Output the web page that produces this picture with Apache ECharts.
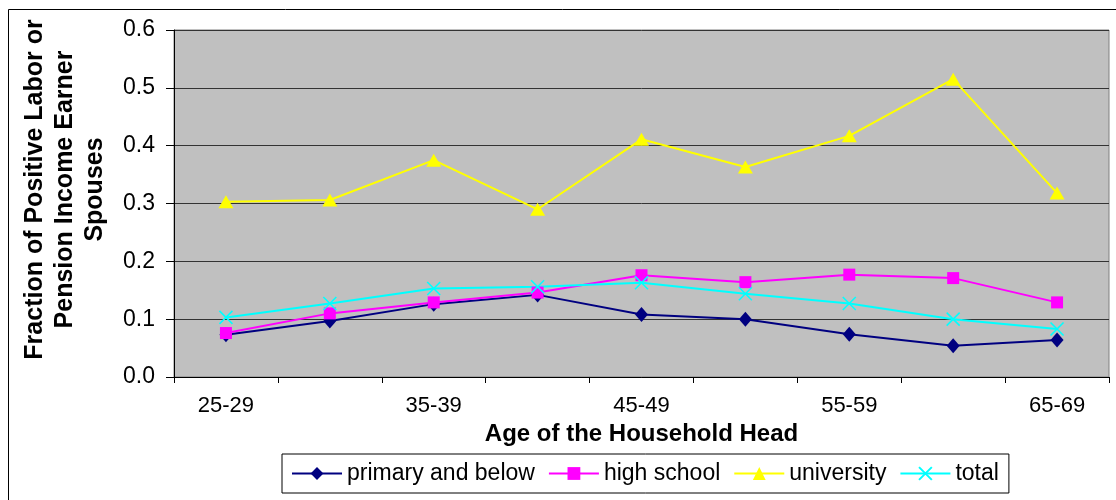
<!DOCTYPE html>
<html>
<head>
<meta charset="utf-8">
<script src="https://cdn.jsdelivr.net/npm/echarts@6/dist/echarts.min.js"></script>
<style>
  html, body { margin: 0; padding: 0; background: #fff; }
  #chart { width: 1116px; height: 500px; }
</style>
</head>
<body>
<div id="chart"></div>
<script>
// age groups of the household head
const ageGroups = ['25-29', '30-34', '35-39', '40-44', '45-49', '50-54', '55-59', '60-64', '65-69'];

// fraction of spouses with positive labor / pension income
const primaryBelow = [0.073, 0.097, 0.126, 0.142, 0.108, 0.100, 0.074, 0.054, 0.064];
const highSchool   = [0.076, 0.110, 0.129, 0.146, 0.176, 0.164, 0.177, 0.171, 0.129];
const university   = [0.303, 0.306, 0.375, 0.290, 0.411, 0.363, 0.417, 0.515, 0.318];
const total        = [0.103, 0.127, 0.153, 0.156, 0.163, 0.144, 0.127, 0.100, 0.083];

const FONT = '"Liberation Sans", Arial, sans-serif';
const crossPath = 'path://M0,0 L10,10 M10,0 L0,10';

const chart = echarts.init(document.getElementById('chart'));

function lineSeries(name, data, color, symbol, size, extra) {
  return Object.assign({
    name,
    type: 'line',
    data,
    symbol,
    symbolSize: size,
    lineStyle: { color, width: 2 },
    itemStyle: { color },
    emphasis: { disabled: true },
    animation: false,
  }, extra || {});
}

chart.setOption({
  backgroundColor: '#fff',
  animation: false,
  textStyle: { fontFamily: FONT },
  graphic: [{
    type: 'rect',
    shape: { x: 8.5, y: 9.5, width: 1200, height: 600 },
    style: { fill: 'none', stroke: '#000', lineWidth: 1 },
    silent: true,
  }],
  grid: {
    left: 174, right: 7, top: 30, bottom: 123,
    show: true,
    backgroundColor: '#C0C0C0',
    borderColor: '#808080',
    borderWidth: 1,
  },
  legend: {
    left: 282, top: 454,
    padding: [8, 10, 8, 9],
    borderColor: '#000',
    borderWidth: 1,
    itemWidth: 50,
    itemHeight: 16,
    itemGap: 13,
    textStyle: { fontSize: 23, color: '#000', fontFamily: FONT },
    data: ['primary and below', 'high school', 'university', 'total'],
  },
  xAxis: {
    type: 'category',
    data: ageGroups,
    boundaryGap: true,
    name: 'Age of the Household Head',
    nameLocation: 'middle',
    nameGap: 45,
    nameTextStyle: { fontSize: 24, fontWeight: 'bold', color: '#000', fontFamily: FONT },
    axisLine: { lineStyle: { color: '#000', width: 1 } },
    axisTick: { show: true, interval: 0, length: 6, lineStyle: { color: '#000' } },
    axisLabel: { interval: 1, fontSize: 22, color: '#000', margin: 18, fontFamily: FONT },
    splitLine: { show: false },
  },
  yAxis: {
    type: 'value',
    min: 0, max: 0.6, interval: 0.1,
    name: 'Fraction of Positive Labor or\nPension Income Earner\nSpouses',
    nameLocation: 'middle',
    nameRotate: 90,
    nameGap: 64,
    nameTextStyle: {
      fontSize: 25, fontWeight: 'bold', color: '#000', fontFamily: FONT,
      lineHeight: 30, align: 'center', padding: [0, 0, 0, 28],
    },
    axisLine: { show: true, lineStyle: { color: '#000', width: 1 } },
    axisTick: { show: true, length: 8, lineStyle: { color: '#000' } },
    axisLabel: { fontSize: 23, color: '#000', margin: 19, fontFamily: FONT,
      formatter: v => v.toFixed(1) },
    splitLine: { lineStyle: { color: '#333', width: 1 } },
  },
  series: [
    lineSeries('primary and below', primaryBelow, '#000080', 'diamond', [13, 15]),
    lineSeries('high school', highSchool, '#FF00FF', 'rect', 12),
    lineSeries('university', university, '#FFFF00', 'triangle', [15, 13]),
    lineSeries('total', total, '#00FFFF', crossPath, 13, {
      itemStyle: { color: '#00FFFF', borderColor: '#00FFFF', borderWidth: 1.6 },
    }),
  ],
});
</script>
</body>
</html>
